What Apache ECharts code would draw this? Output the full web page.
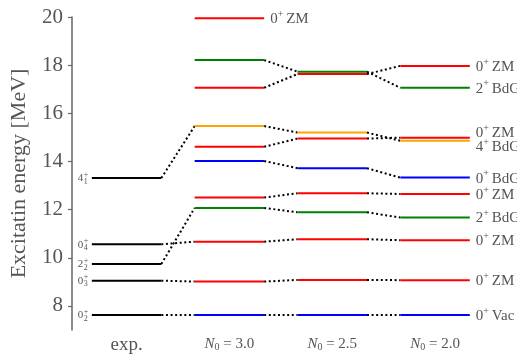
<!DOCTYPE html>
<html><head><meta charset="utf-8">
<script src="https://cdn.jsdelivr.net/npm/echarts@6/dist/echarts.min.js"></script>
<style>html,body{margin:0;padding:0;background:#fff}#c{width:517px;height:363px}</style>
</head><body><div id="c"></div>
<script>
// ---- data ----
const columnNames = ['exp.', '3.0', '2.5', '2.0'];          // x categories (N0 values)
const expEnergies = [13.31, 10.56, 9.74, 9.05, 7.625];       // experimental levels [MeV]
const expSpins    = ['4', '0', '2', '0', '0'];
const expIndices  = ['1', '4', '2', '3', '2'];
const expLinksTo  = [3, 8, 7, 9, 10];                        // track index each exp level connects to
const trackStates = ['0+ ZM','2+ BdG','0+ ZM','4+ BdG','0+ ZM','0+ BdG','0+ ZM','2+ BdG','0+ ZM','0+ ZM','0+ Vac'];
const energyN30 = [19.95, 18.21, 17.06, 15.47, 14.61, 14.02, 12.50, 12.07, 10.67, 9.01, 7.625];
const energyN25 = [null,  17.73, 17.63, 15.20, 14.95, 13.72, 12.68, 11.89, 10.77, 9.08, 7.625];
const energyN20 = [null,  17.06, 17.97, 14.86, 14.99, 13.33, 12.65, 11.67, 10.73, 9.07, 7.625];
const yTicks = [8, 10, 12, 14, 16, 18, 20];

// ---- styles ----
const stateColor = {'0+ ZM':'#ff0000','2+ BdG':'#008000','4+ BdG':'#ffa500','0+ BdG':'#0000ff','0+ Vac':'#0000ff'};
const HW = 0.338;            // half width of level line in axis units
const textColor = '#555';
const serif = '"Liberation Serif", "DejaVu Serif", serif';

const theoryCols = [energyN30, energyN25, energyN20];
// levels
const levels = [];
expEnergies.forEach((e, i) => levels.push({col: 0, E: e, color: '#000', exp: i}));
theoryCols.forEach((arr, c) => arr.forEach((e, t) => {
  if (e == null) return;
  levels.push({col: c + 1, E: e, color: stateColor[trackStates[t]], track: t});
}));
// right-side labels: last column where track exists
const labels = [];
trackStates.forEach((s, t) => {
  let last = -1;
  theoryCols.forEach((arr, c) => { if (arr[t] != null) last = c; });
  labels.push({col: last + 1, E: theoryCols[last][t], state: s});
});
// simple collision avoidance per column
const MIN_GAP = 0.6;
[1,2,3].forEach(c => {
  const ls = labels.filter(l => l.col === c).sort((a, b) => b.E - a.E);
  ls.forEach(l => l.yE = l.E);
  for (let i = 1; i < ls.length; i++) {
    const a = ls[i-1], b = ls[i];
    if (a.yE - b.yE < MIN_GAP) {
      const mid = (a.yE + b.yE) / 2;
      a.yE = mid + MIN_GAP / 2; b.yE = mid - MIN_GAP / 2;
    }
  }
});
// connectors
const links = [];
expEnergies.forEach((e, i) => {
  const t = expLinksTo[i];
  links.push([0, e, 1, energyN30[t]]);
});
trackStates.forEach((s, t) => {
  for (let c = 0; c < 2; c++) {
    const a = theoryCols[c][t], b = theoryCols[c+1][t];
    if (a != null && b != null) links.push([c + 1, a, c + 2, b]);
  }
});

const chart = echarts.init(document.getElementById('c'), null, {renderer: 'canvas'});
chart.setOption({
  animation: false,
  backgroundColor: '#fff',
  grid: {left: 69, right: 0, top: 17, bottom: 33, containLabel: false},
  xAxis: {
    type: 'value', min: -0.531, max: 3.797,
    axisLine: {show: false}, axisTick: {show: false}, splitLine: {show: false},
    axisLabel: {
      customValues: [0, 1, 2, 3], margin: 6, color: textColor, fontFamily: serif, fontSize: 18,
      formatter: v => {
        const i = Math.round(v);
        return i === 0 ? '{t|' + columnNames[0] + '}' : '{it|N}{sub|0}{n| = ' + columnNames[i] + '}';
      },
      rich: {
        t: {fontSize: 19, fontFamily: serif, color: textColor},
        it: {fontSize: 15, fontStyle: 'italic', fontFamily: serif, color: textColor, verticalAlign: 'middle'},
        sub: {fontSize: 10, fontFamily: serif, color: textColor, verticalAlign: 'bottom', padding: [6, 0, 0, 0]},
        n: {fontSize: 15, fontFamily: serif, color: textColor}
      }
    }
  },
  yAxis: {
    type: 'value', min: 7, max: 20,
    name: 'Excitatin energy [MeV]', nameLocation: 'middle', nameGap: 42,
    nameTextStyle: {fontFamily: serif, fontSize: 22, color: textColor},
    axisLine: {show: true, onZero: false, lineStyle: {color: '#666', width: 1.5}},
    axisTick: {show: true, customValues: yTicks, length: 4, lineStyle: {color: '#666', width: 1.2}},
    axisLabel: {customValues: yTicks, margin: 9, fontFamily: serif, fontSize: 21, color: textColor},
    splitLine: {show: false}
  },
  series: [
    {
      type: 'custom', coordinateSystem: 'cartesian2d', clip: false,
      data: links,
      renderItem: (params, api) => {
        const p1 = api.coord([api.value(0) + HW, api.value(1)]);
        const p2 = api.coord([api.value(2) - HW, api.value(3)]);
        return {type: 'line', shape: {x1: p1[0], y1: p1[1], x2: p2[0], y2: p2[1]},
          style: {stroke: '#000', lineWidth: 2, lineDash: [2, 2.6]}};
      }
    },
    {
      type: 'custom', coordinateSystem: 'cartesian2d', clip: false,
      data: levels.map(l => [l.col, l.E]),
      renderItem: (params, api) => {
        const l = levels[params.dataIndex];
        const p1 = api.coord([api.value(0) - HW, api.value(1)]);
        const p2 = api.coord([api.value(0) + HW, api.value(1)]);
        const children = [{type: 'line', shape: {x1: p1[0], y1: p1[1], x2: p2[0], y2: p2[1]},
          style: {stroke: l.color, lineWidth: 2}}];
        if (l.exp != null) {
          const x = p1[0] - 8.5, y = p1[1];
          children.push({type: 'text', style: {text: expSpins[l.exp], x: x, y: y + 0.5, align: 'right', verticalAlign: 'middle',
            fontSize: 11, fontFamily: serif, fill: textColor}});
          children.push({type: 'text', style: {text: '+', x: x + 0.5, y: y - 3.5, align: 'left', verticalAlign: 'middle',
            fontSize: 8, fontFamily: serif, fill: textColor}});
          children.push({type: 'text', style: {text: expIndices[l.exp], x: x + 0.5, y: y + 3.5, align: 'left', verticalAlign: 'middle',
            fontSize: 8, fontFamily: serif, fill: textColor}});
        }
        return {type: 'group', children: children};
      }
    },
    {
      type: 'custom', coordinateSystem: 'cartesian2d', clip: false,
      data: labels.map(l => [l.col, l.yE]),
      renderItem: (params, api) => {
        const l = labels[params.dataIndex];
        const p = api.coord([api.value(0) + HW, api.value(1)]);
        const parts = l.state.split(' ');
        const spin = parts[0].replace('+', '');
        return {type: 'group', children: [
          {type: 'text', style: {text: spin, x: p[0] + 6, y: p[1] + 1, verticalAlign: 'middle',
            fontSize: 15, fontFamily: serif, fill: textColor}},
          {type: 'text', style: {text: '+', x: p[0] + 13.5, y: p[1] - 4, verticalAlign: 'middle',
            fontSize: 10, fontFamily: serif, fill: textColor}},
          {type: 'text', style: {text: parts[1], x: p[0] + 22, y: p[1] + 1, verticalAlign: 'middle',
            fontSize: 15, fontFamily: serif, fill: textColor}}
        ]};
      }
    }
  ]
});
</script></body></html>
